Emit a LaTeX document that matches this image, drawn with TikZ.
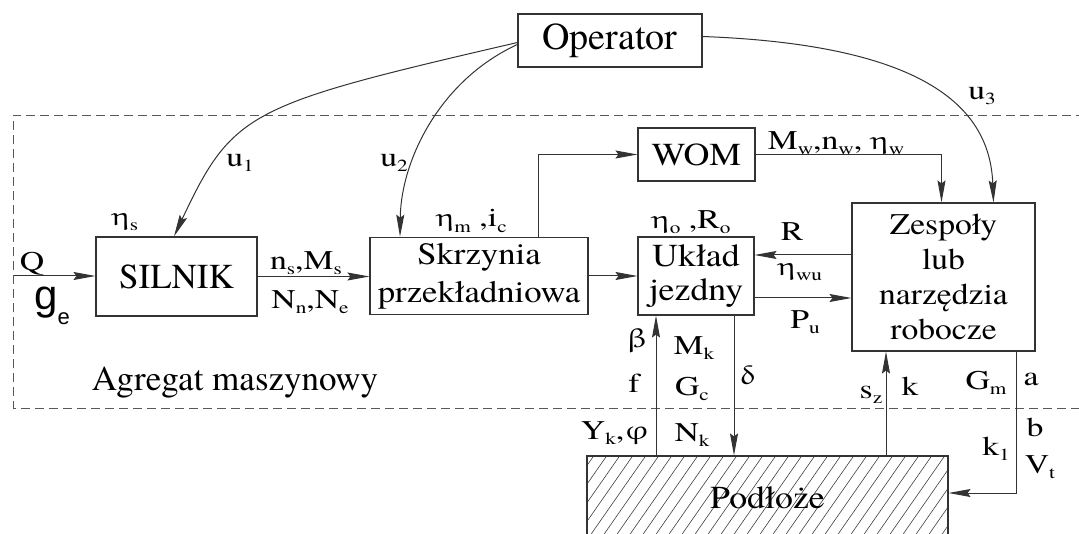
\documentclass[tikz,border=0pt]{standalone}
\usepackage{fontspec}
\usepackage{upgreek}
\setmainfont{texgyretermes}[Extension=.otf, UprightFont=*-regular, BoldFont=*-bold, ItalicFont=*-italic, BoldItalicFont=*-bolditalic]
\newfontfamily\lblf{texgyretermes}[Extension=.otf, UprightFont=*-regular, FakeStretch=1.25]
\newfontfamily\boxf{texgyretermes}[Extension=.otf, UprightFont=*-regular, FakeStretch=1.12]
\newfontfamily\sansf{Liberation Sans}
\usetikzlibrary{arrows.meta,calc}
\newcommand\sbs[1]{\raisebox{-0.2em}{\fontsize{17}{17}\selectfont #1}}
\newcommand\geta{\scalebox{1.2}[0.95]{$\upeta$}}
\begin{document}
\begin{tikzpicture}[x=1pt,y=-1pt,
  every node/.style={inner sep=0pt},
  blk/.style={draw=black!80, line width=1.1pt, align=center, font=\boxf\fontsize{31}{35}\selectfont},
  lbl/.style={font=\lblf\fontsize{27}{30}\selectfont},
  arr/.style={draw=black!80, line width=1pt, -{Stealth[length=22pt,width=8pt,inset=3pt]}},
  dsh/.style={draw=black!65, line width=0.9pt, dash pattern=on 9pt off 5pt},
  hatch/.style={path picture={\foreach \i in {-6,...,30}
      \draw[line width=0.6pt, black!75] ([xshift=\i*13pt]path picture bounding box.south west) -- ++(60pt,86pt);}}]
\useasboundingbox (0,0) rectangle (1079,534);
\fill[white] (0,0) rectangle (1079,534);
% frame of the machine aggregate
\draw[dsh] (1085,115) -- (13.5,115) -- (13.5,408) -- (1085,408);
% blocks
\node[blk, minimum width=184pt, minimum height=53pt, font=\rmfamily\fontsize{38}{38}\selectfont] (op) at (610,40.5) {Operator};
\node[blk, minimum width=161pt, minimum height=79pt, font=\rmfamily\fontsize{35}{35}\selectfont] (sil) at (176.5,276.5) {SILNIK};
\node[blk, minimum width=218pt, minimum height=77.5pt, font=\boxf\fontsize{31}{38}\selectfont] (skr) at (479,276) {Skrzynia\\przekładniowa};
\node[blk, minimum width=116pt, minimum height=78pt, font=\boxf\fontsize{32}{34}\selectfont] (ukl) at (696,276) {Układ\\jezdny};
\node[blk, minimum width=117pt, minimum height=53pt, font=\boxf\fontsize{32}{34}\selectfont] (wom) at (696.5,154.5) {WOM};
\node[blk, minimum width=183pt, minimum height=148pt, font=\boxf\fontsize{30}{35}\selectfont] (zes) at (943.5,277) {Zespoły\\lub\\narzędzia\\robocze};
\node[blk, hatch, minimum width=361pt, minimum height=84pt, font=\boxf\fontsize{32}{35}\selectfont] (pod) at (767.5,498) {Podłoże};
\coordinate (qin) at (13.5,276);
% connectors
\draw[arr] (qin) -- (qin -| sil.west);
\draw[arr] (sil.east) -- (sil.east -| skr.west);
\draw[arr] (skr.east) -- (skr.east -| ukl.west);
\draw[arr] ([xshift=59pt]skr.north) |- (wom.west);
\draw[arr] (wom.east) -| ([xshift=-2pt]zes.north);
\draw[arr] ([yshift=22pt]zes.west) -- ([yshift=22pt]zes.west -| ukl.east);
\draw[arr] ([yshift=-22pt]ukl.east) -- ([yshift=-22pt]ukl.east -| zes.west);
\draw[arr] ([xshift=-40pt]ukl.south |- pod.north) -- ([xshift=-40pt]ukl.south);
\draw[arr] ([xshift=38pt]ukl.south) -- ([xshift=38pt]ukl.south |- pod.north);
\draw[arr] ([xshift=-57.5pt]zes.south |- pod.north) -- ([xshift=-57.5pt]zes.south);
\draw[arr] ([xshift=73pt]zes.south) |- ([yshift=5pt]pod.east);
% operator commands
\draw[arr] ([yshift=-2pt]op.west) .. controls (248,105) and (233,111) .. ([xshift=-2.5pt]sil.north);
\draw[arr] ([yshift=-4pt]op.west) .. controls (440,80) and (401,160) .. ([xshift=-79pt]skr.north);
\draw[arr] ([yshift=4pt]op.east) .. controls (930,45) and (990,110) .. ([xshift=50pt]zes.north);
% labels
\node[lbl] (lu1) at (240,163) {u\sbs{1}};
\node[lbl] (lu2) at (394,163) {u\sbs{2}};
\node[lbl] (lu3) at (982,96) {u\sbs{3}};
\node[lbl] (les) at (125,222) {\geta\sbs{s}};
\node[lbl] (lmi) at (471.5,221) {\geta\sbs{m} ,i\sbs{c}};
\node[lbl] (lor) at (691,222) {\geta\sbs{o} ,R\sbs{o}};
\node[lbl] (lmw) at (836,143) {M\sbs{w},n\sbs{w}, \geta\sbs{w}};
\node[lbl] (lr) at (792,232) {R};
\node[lbl] (lwu) at (800,272) {\geta\sbs{wu}};
\node[lbl] (lpu) at (805,322) {P\sbs{u}};
\node[lbl] (lq) at (32,264) {Q};
\node[font=\sansf\fontsize{42}{42}\selectfont] (lge) at (52,306) {g\raisebox{-0.35em}{\fontsize{22}{22}\selectfont e}};
\node[lbl] (lns) at (306,263) {n\sbs{s},M\sbs{s}};
\node[lbl] (lnn) at (310,302) {N\sbs{n},N\sbs{e}};
\node[lbl] (lb) at (637,341) {\scalebox{1.2}[1]{$\upbeta$}};
\node[lbl] (lmk) at (694,348) {M\sbs{k}};
\node[lbl] (lf) at (634,383) {f};
\node[lbl] (lgc) at (692,389) {G\sbs{c}};
\node[lbl] (ld) at (748,375) {\scalebox{1.2}[1]{$\updelta$}};
\node[lbl] (lyk) at (615,433) {Y\sbs{k},\scalebox{1.2}[1]{$\upvarphi$}};
\node[lbl] (lnk) at (692,435) {N\sbs{k}};
\node[lbl] (lsz) at (871,395) {s\sbs{z}};
\node[lbl] (lk) at (910,386) {k};
\node[lbl] (lgm) at (986,383) {G\sbs{m}};
\node[lbl] (la) at (1031,379) {a};
\node[lbl] (lbb) at (1035,427) {b};
\node[lbl] (lvt) at (1040,467) {V\sbs{t}};
\node[lbl] (lk1) at (996,449) {k\sbs{1}};
\node[font=\rmfamily\fontsize{35}{35}\selectfont] (agr) at (235,383) {Agregat maszynowy};
\end{tikzpicture}
\end{document}
